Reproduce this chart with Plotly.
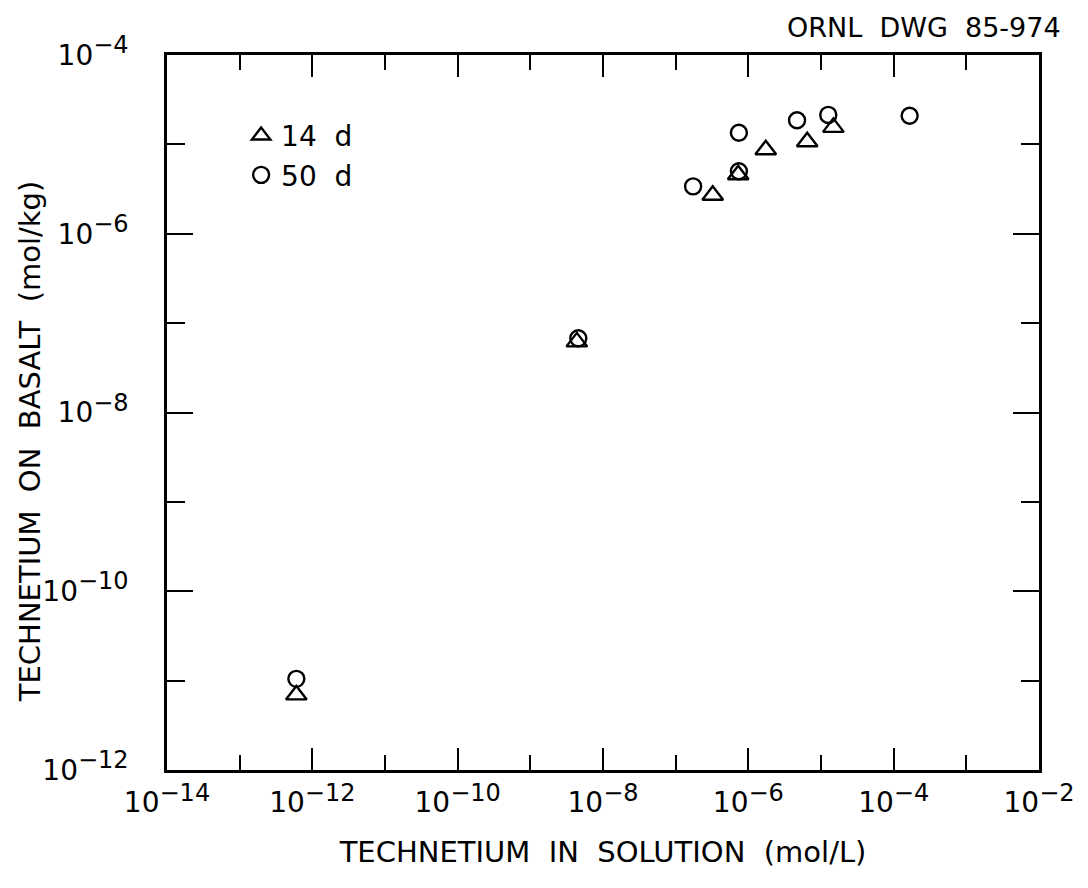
import plotly.graph_objects as go

# Data (mol/L in solution, mol/kg on basalt)
x_14d = [10**-12.22, 10**-8.36, 10**-6.49, 10**-6.14, 10**-5.76, 10**-5.19, 10**-4.83]
y_14d = [10**-11.16, 10**-7.21, 10**-5.57, 10**-5.34, 10**-5.06, 10**-4.97, 10**-4.81]

x_50d = [10**-12.22, 10**-8.34, 10**-6.76, 10**-6.13, 10**-6.13, 10**-5.33, 10**-4.90, 10**-3.78]
y_50d = [10**-10.98, 10**-7.17, 10**-5.47, 10**-5.30, 10**-4.87, 10**-4.73, 10**-4.67, 10**-4.68]

x_major = [-14, -12, -10, -8, -6, -4, -2]
x_minor = [-13, -11, -9, -7, -5, -3]
y_major = [-12, -10, -8, -6, -4]
y_minor = [-11, -9, -7, -5]

NB = "\u00a0"

def lab(e):
    return "10<sup><span style='font-size:24px'>\u2212" + str(abs(e)) + "</span></sup>"

FONT = "DejaVu Sans"

fig = go.Figure()
fig.add_trace(go.Scatter(
    x=x_14d, y=y_14d, mode="markers", name="14" + NB + NB + "d",
    marker=dict(symbol="triangle-up-open", size=18, color="black", line=dict(width=2.4, color="black")),
))
fig.add_trace(go.Scatter(
    x=x_50d, y=y_50d, mode="markers", name="50" + NB + NB + "d",
    marker=dict(symbol="circle-open", size=16, color="black", line=dict(width=2.4, color="black")),
))

fig.update_layout(
    width=1088, height=888,
    margin=dict(l=167, r=49, t=55, b=118),
    paper_bgcolor="white", plot_bgcolor="white",
    font=dict(family=FONT, color="black", size=26),
    showlegend=True,
    legend=dict(x=0.085, y=0.922, xanchor="left", yanchor="top",
                bgcolor="rgba(0,0,0,0)", font=dict(size=28, family=FONT),
                itemsizing="trace", tracegroupgap=0, itemwidth=30),
)

fig.update_xaxes(
    type="log", range=[-14, -2],
    showline=True, linecolor="black", linewidth=2.5, mirror="allticks",
    ticks="inside", ticklen=22, tickwidth=2, tickcolor="black",
    tickvals=[10**e for e in x_major], ticktext=[lab(e) for e in x_major],
    minor=dict(tickvals=[10**e for e in x_minor], ticks="inside", ticklen=15, tickwidth=2, tickcolor="black", showgrid=False),
    showgrid=False, zeroline=False,
    tickfont=dict(size=28, family=FONT),
    ticklabelstandoff=6,
    title=dict(text="TECHNETIUM" + NB + NB + "IN" + NB + NB + "SOLUTION" + NB + NB + "(mol/L)",
               font=dict(size=29, family=FONT), standoff=24),
)
fig.update_yaxes(
    type="log", range=[-12, -4],
    showline=True, linecolor="black", linewidth=2.5, mirror="allticks",
    ticks="inside", ticklen=26, tickwidth=2, tickcolor="black",
    tickvals=[10**e for e in y_major], ticktext=[lab(e) for e in y_major],
    minor=dict(tickvals=[10**e for e in y_minor], ticks="inside", ticklen=18, tickwidth=2, tickcolor="black", showgrid=False),
    showgrid=False, zeroline=False,
    tickfont=dict(size=28, family=FONT),
    ticklabelstandoff=30,
)

# y-axis title placed slightly below centre, as in the original drawing
fig.add_annotation(text="TECHNETIUM" + NB + NB + "ON" + NB + NB + "BASALT" + NB + NB + "(mol/kg)",
                   xref="paper", yref="paper", x=-0.157, y=0.46, textangle=-90,
                   xanchor="center", yanchor="middle", showarrow=False,
                   font=dict(size=29, family=FONT))

fig.add_annotation(text="ORNL" + NB + NB + "DWG" + NB + NB + "85-974", xref="paper", yref="paper",
                   x=1.027, y=1.0, xanchor="right", yanchor="bottom", yshift=10,
                   showarrow=False, font=dict(size=27, family=FONT))

fig.write_html("out.html")
